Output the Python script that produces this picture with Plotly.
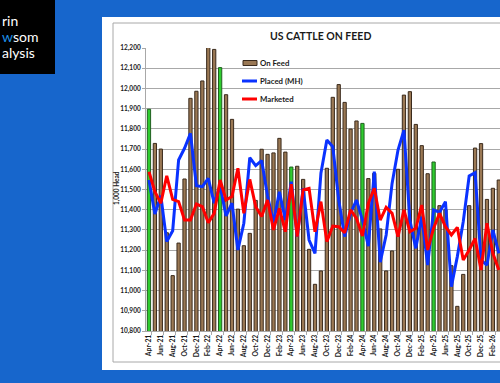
import plotly.graph_objects as go

months = ["Apr-21","May-21","Jun-21","Jul-21","Aug-21","Sep-21","Oct-21","Nov-21","Dec-21",
          "Jan-22","Feb-22","Mar-22","Apr-22","May-22","Jun-22","Jul-22","Aug-22","Sep-22","Oct-22","Nov-22","Dec-22",
          "Jan-23","Feb-23","Mar-23","Apr-23","May-23","Jun-23","Jul-23","Aug-23","Sep-23","Oct-23","Nov-23","Dec-23",
          "Jan-24","Feb-24","Mar-24","Apr-24","May-24","Jun-24","Jul-24","Aug-24","Sep-24","Oct-24","Nov-24","Dec-24",
          "Jan-25","Feb-25","Mar-25","Apr-25","May-25","Jun-25","Jul-25","Aug-25","Sep-25","Oct-25","Nov-25","Dec-25",
          "Jan-26","Feb-26","Mar-26"]

on_feed = [11897, 11728, 11700, 11286, 11074, 11235, 11552, 11951, 11986,
           12037, 12219, 12193, 12103, 11969, 11847, 11403, 11222, 11283, 11446, 11699, 11674,
           11681, 11753, 11685, 11611, 11615, 11550, 11204, 11031, 11097, 11605, 11956, 12019,
           11931, 11799, 11839, 11827, 11554, 11580, 11305, 11097, 11196, 11600, 11967, 11984,
           11822, 11717, 11578, 11636, 11420, 11400, 11123, 10922, 11080, 11420, 11705, 11727,
           11451, 11506, 11547]

placed = [11547, 11379, 11469, 11242, 11296, 11646, 11704, 11778, 11519,
          11514, 11555, 11432, 11519, 11369, 11432, 11201, 11333, 11657, 11618, 11643, 11468,
          11336, 11489, 11349, 11539, 11267, 11506, 11250, 11184, 11581, 11745, 11712, 11448,
          11267, 11382, 11448, 11349, 11220, 11588, 11140, 11275, 11530, 11695, 11794, 11349,
          11209, 11366, 11126, 11399, 11387, 11440, 11019, 11168, 11341, 11567, 11583, 11151,
          11126, 11300, 11184]

marketed = [11588, 11489, 11432, 11568, 11451, 11440, 11349, 11349, 11428,
            11415, 11336, 11382, 11547, 11448, 11465, 11605, 11382, 11550, 11415, 11366, 11448,
            11300, 11407, 11291, 11526, 11267, 11498, 11506, 11291, 11440, 11242, 11319, 11316,
            11286, 11399, 11357, 11270, 11432, 11506, 11349, 11412, 11382, 11267, 11399, 11291,
            11308, 11423, 11201, 11308, 11382, 11316, 11275, 11313, 11151, 11201, 11258, 11102,
            11333, 11184, 11102]

y_ticks = [10800, 10900, 11000, 11100, 11200, 11300, 11400, 11500, 11600, 11700, 11800, 11900, 12000, 12100, 12200]

BROWN = "#9a7854"
GREEN = "#2ecc2e"
idx = list(range(len(months)))
bar_colors = [GREEN if m.startswith("Apr") else BROWN for m in months]
bar_lines = ["#1f5f1f" if m.startswith("Apr") else "#3a2a1c" for m in months]

W, H = 500, 383
ML, MR, MT, MB = 146, 0, 48, 52
PW, PH = W - ML - MR, H - MT - MB


def px(x):
    return (x - ML) / PW


def py(y):
    return (H - MB - y) / PH


fig = go.Figure()
fig.add_trace(go.Bar(x=idx, y=on_feed, name="On Feed", width=0.55,
                     marker=dict(color=bar_colors, line=dict(color=bar_lines, width=1)),
                     showlegend=False))
fig.add_trace(go.Scatter(x=idx, y=placed, name="Placed (MH)", mode="lines",
                         line=dict(color="#0a32ff", width=3), showlegend=False))
fig.add_trace(go.Scatter(x=idx, y=marketed, name="Marketed", mode="lines",
                         line=dict(color="#ff0000", width=3), showlegend=False))

FONT = "Lato"
shapes = [
    dict(type="rect", xref="paper", yref="paper", x0=px(-5), x1=px(55), y0=py(74), y1=py(-5),
         fillcolor="#000000", line=dict(width=0), layer="below"),
    dict(type="rect", xref="paper", yref="paper", x0=px(102), x1=px(510), y0=py(370), y1=py(17),
         fillcolor="#ffffff", line=dict(width=0), layer="below"),
    dict(type="rect", xref="paper", yref="paper", x0=px(113), x1=px(520), y0=py(362), y1=py(23),
         fillcolor="rgba(0,0,0,0)", line=dict(color="#a8a8a8", width=1), layer="below"),
    # legend symbols
    dict(type="rect", xref="paper", yref="paper", x0=px(243), x1=px(257), y0=py(65.5), y1=py(60.5),
         fillcolor=BROWN, line=dict(color="#3a2a1c", width=1), layer="above"),
    dict(type="line", xref="paper", yref="paper", x0=px(242), x1=px(257), y0=py(81), y1=py(81),
         line=dict(color="#0a32ff", width=3), layer="above"),
    dict(type="line", xref="paper", yref="paper", x0=px(242), x1=px(257), y0=py(99), y1=py(99),
         line=dict(color="#ff0000", width=3), layer="above"),
]

annotations = [
    dict(text="rin", x=px(0), y=py(21), xanchor="left", yanchor="middle",
         font=dict(family=FONT, size=14, color="#ffffff")),
    dict(text="<span style='color:#1e90e8'>w</span>som", x=px(0), y=py(36.5), xanchor="left", yanchor="middle",
         font=dict(family=FONT, size=14, color="#ffffff")),
    dict(text="alysis", x=px(0), y=py(52), xanchor="left", yanchor="middle",
         font=dict(family=FONT, size=14, color="#ffffff")),
    dict(text="US CATTLE ON FEED", x=px(320), y=py(36), xanchor="center", yanchor="middle",
         font=dict(family=FONT, size=10.5, color="#1a1a1a", weight="bold")),
    dict(text="1,000 Head", x=px(117), y=py(188), xanchor="center", yanchor="middle", textangle=-90,
         font=dict(family=FONT, size=6.5, color="#1a1a1a", weight="bold")),
    dict(text="On Feed", x=px(257.5), y=py(63), xanchor="left", yanchor="middle",
         font=dict(family=FONT, size=7.8, color="#1a1a1a", weight="bold")),
    dict(text="Placed (MH)", x=px(257.5), y=py(81), xanchor="left", yanchor="middle",
         font=dict(family=FONT, size=7.8, color="#1a1a1a", weight="bold")),
    dict(text="Marketed", x=px(257.5), y=py(99), xanchor="left", yanchor="middle",
         font=dict(family=FONT, size=7.8, color="#1a1a1a", weight="bold")),
]
for a in annotations:
    a.update(xref="paper", yref="paper", showarrow=False)

fig.update_layout(
    width=W, height=H, autosize=False,
    margin=dict(l=ML, r=MR, t=MT, b=MB, pad=0),
    paper_bgcolor="#1766cc", plot_bgcolor="#ffffff",
    bargap=0.45,
    shapes=shapes, annotations=annotations,
    showlegend=False,
    xaxis=dict(range=[-0.5, 59.2], tickmode="array", tickvals=idx[::2], ticktext=months[::2],
               tickangle=-90, tickfont=dict(family=FONT, size=6.8, color="#1a1a1a", weight="bold"),
               ticks="", showgrid=False, zeroline=False, showline=True, linecolor="#a8a8a8", linewidth=1,
               minor=dict(tickvals=[i + 0.5 for i in idx[::2]], ticks="outside", ticklen=3,
                          tickcolor="#a8a8a8", showgrid=False)),
    yaxis=dict(range=[10800, 12200], tickmode="array", tickvals=y_ticks, tickformat=",",
               tickfont=dict(family=FONT, size=6.5, color="#1a1a1a", weight="bold"),
               ticks="outside", ticklen=3, tickcolor="#a8a8a8",
               showgrid=True, gridcolor="#a8a8a8", gridwidth=1, zeroline=False,
               showline=True, linecolor="#a8a8a8", linewidth=1),
)

fig.write_html("out.html", config={"displayModeBar": False},
               post_script="document.body.style.margin='0px';document.body.style.padding='0px';"
                           "document.body.style.overflow='hidden';")
